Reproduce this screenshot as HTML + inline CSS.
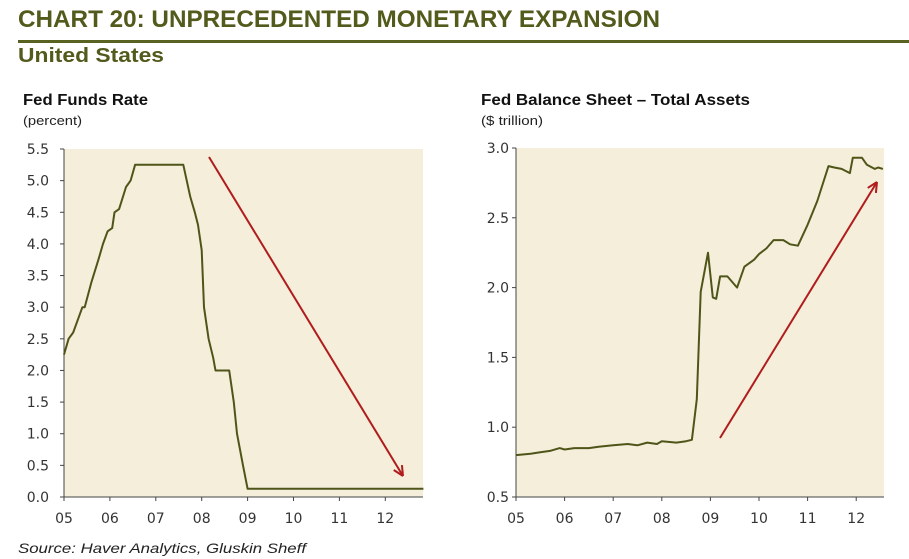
<!DOCTYPE html>
<html><head><meta charset="utf-8"><style>
html,body{margin:0;padding:0;background:#fff;width:909px;height:559px;overflow:hidden}
svg{display:block}
.t{font-family:"Liberation Sans Narrow","Liberation Sans",sans-serif;font-weight:bold;fill:#525a1c}
.h{font-family:"Liberation Sans Narrow","Liberation Sans",sans-serif;font-weight:bold;fill:#111}
.s{font-family:"Liberation Sans Narrow","Liberation Sans",sans-serif;fill:#222;font-size:13px}
.tk{font-family:"DejaVu Sans","Liberation Sans",sans-serif;fill:#333;font-size:14px}
</style></head><body>
<svg id="svg" width="909" height="559">
<text class="t" x="18" y="27" font-size="24" textLength="642" lengthAdjust="spacingAndGlyphs">CHART 20: UNPRECEDENTED MONETARY EXPANSION</text>
<rect x="18" y="40" width="891" height="3" fill="#5a6222"/>
<text class="t" x="18" y="62" font-size="20" textLength="146" lengthAdjust="spacingAndGlyphs">United States</text>
<text class="h" x="23" y="105" font-size="16" textLength="125" lengthAdjust="spacingAndGlyphs">Fed Funds Rate</text>
<text class="s" x="23" y="125" textLength="59" lengthAdjust="spacingAndGlyphs">(percent)</text>
<text class="h" x="481" y="105" font-size="16" textLength="269" lengthAdjust="spacingAndGlyphs">Fed Balance Sheet – Total Assets</text>
<text class="s" x="481" y="125" textLength="62" lengthAdjust="spacingAndGlyphs">($ trillion)</text>
<text x="18" y="553" font-size="14" font-style="italic" font-family="Liberation Sans,sans-serif" fill="#222" textLength="288" lengthAdjust="spacingAndGlyphs">Source: Haver Analytics, Gluskin Sheff</text>
<g id="left"></g><g id="right"></g>
</svg>
<script>
const leftYears=[2005.0,2005.1,2005.2,2005.3,2005.4,2005.45,2005.6,2005.75,2005.85,2005.95,2006.05,2006.1,2006.2,2006.35,2006.45,2006.55,2007.6,2007.75,2007.85,2007.92,2008.0,2008.05,2008.15,2008.25,2008.3,2008.6,2008.7,2008.77,2008.9,2009.0,2012.83];
const leftValues=[2.25,2.5,2.6,2.8,3.0,3.0,3.4,3.75,4.0,4.2,4.25,4.5,4.55,4.9,5.0,5.25,5.25,4.75,4.5,4.3,3.9,3.0,2.5,2.2,2.0,2.0,1.5,1.0,0.5,0.13,0.13];
const leftTicks=[0,0.5,1,1.5,2,2.5,3,3.5,4,4.5,5,5.5];
const rightYears=[2005.0,2005.3,2005.5,2005.7,2005.9,2006.0,2006.2,2006.5,2006.7,2007.0,2007.3,2007.5,2007.7,2007.9,2008.0,2008.3,2008.5,2008.62,2008.72,2008.8,2008.95,2009.05,2009.12,2009.2,2009.35,2009.55,2009.7,2009.9,2010.0,2010.15,2010.3,2010.5,2010.64,2010.8,2011.0,2011.2,2011.43,2011.55,2011.7,2011.87,2011.93,2012.12,2012.22,2012.38,2012.45,2012.55];
const rightValues=[0.8,0.81,0.82,0.83,0.85,0.84,0.85,0.85,0.86,0.87,0.88,0.87,0.89,0.88,0.9,0.89,0.9,0.91,1.2,1.97,2.25,1.93,1.92,2.08,2.08,2.0,2.15,2.2,2.24,2.28,2.34,2.34,2.31,2.3,2.45,2.62,2.87,2.86,2.85,2.82,2.93,2.93,2.88,2.85,2.86,2.85];
const rightTicks=[0.5,1.0,1.5,2.0,2.5,3.0];
const yearLabels=["05","06","07","08","09","10","11","12"];
const NS="http://www.w3.org/2000/svg";
function mk(p,tag,a){const e=document.createElementNS(NS,tag);for(const k in a)e.setAttribute(k,a[k]);p.appendChild(e);return e;}
function draw(g,o){
  const sx=v=>o.x0+(v-2005)*o.pxYr, sy=v=>o.y0+(v-o.ymin)/(o.ymax-o.ymin)*(o.y1-o.y0);
  const bg=mk(g,'rect',{x:o.x0,y:o.y1,width:o.xEnd-o.x0,height:o.y0-o.y1,fill:'#f4eedb'});
  
  
  const ax=mk(g,'path',{d:`M${o.x0},${o.y1}V${o.y0}H${o.xEnd}`,stroke:'#444',fill:'none','stroke-width':1});
  
  
  o.ticks.forEach(t=>{const y=sy(t);mk(g,'line',{x1:o.x0-4,x2:o.x0,y1:y,y2:y,stroke:'#444'});
    const tx=mk(g,'text',{x:o.x0-o.gap,y:y+5,'text-anchor':'end',class:'tk'});tx.textContent=o.fmt(t);
    
    });
  yearLabels.forEach((l,i)=>{const x=sx(2005+i);mk(g,'line',{x1:x,x2:x,y1:o.y0,y2:o.y0+4,stroke:'#444'});
    const tx=mk(g,'text',{x:x,y:o.y0+26,'text-anchor':'middle',class:'tk'});tx.textContent=l;
    
    });
  const d=o.xs.map((v,i)=>(i?'L':'M')+sx(v).toFixed(1)+','+sy(o.vs[i]).toFixed(1)).join('');
  const ln=mk(g,'path',{d:d,stroke:'#4f5519',fill:'none','stroke-width':2,'stroke-linejoin':'round'});
  
  
  const a=o.arrow;const ar=mk(g,'g',{});
  
  
  mk(ar,'line',{x1:a[0],y1:a[1],x2:a[2],y2:a[3],stroke:'#b01c1c','stroke-width':2});
  const ang=Math.atan2(a[3]-a[1],a[2]-a[0]),L=11;
  [0.45,-0.45].forEach(s=>mk(ar,'line',{x1:a[2],y1:a[3],x2:a[2]-L*Math.cos(ang+s),y2:a[3]-L*Math.sin(ang+s),stroke:'#b01c1c','stroke-width':2}));
}
draw(document.getElementById('left'),{p:'left',gap:15,x0:64,xEnd:423,pxYr:45.9,y0:497,y1:149,ymin:0,ymax:5.5,ticks:leftTicks,fmt:t=>t.toFixed(1),xs:leftYears,vs:leftValues,arrow:[209,157,403,476]});
draw(document.getElementById('right'),{p:'right',gap:7,x0:516,xEnd:884,pxYr:48.6,y0:497,y1:148,ymin:0.5,ymax:3.0,ticks:rightTicks,fmt:t=>t.toFixed(1),xs:rightYears,vs:rightValues,arrow:[720,438,877,182]});
</script>
</body></html>
